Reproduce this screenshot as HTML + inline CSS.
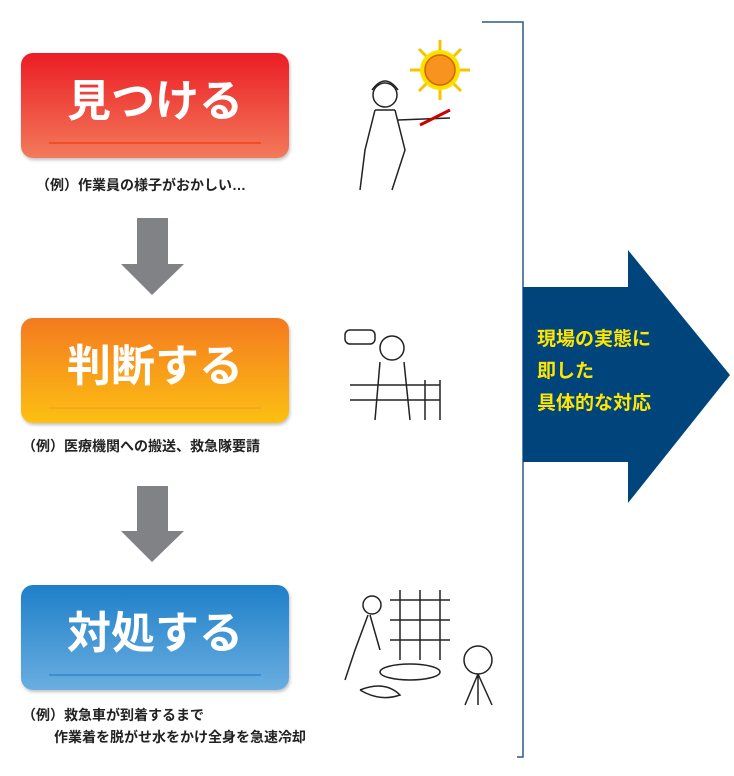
<!DOCTYPE html>
<html><head><meta charset="utf-8"><style>
body{margin:0;width:734px;height:776px;background:#fff;position:relative;overflow:hidden;font-family:"Liberation Sans","Noto Sans CJK JP",sans-serif}
.box{position:absolute;left:21px;width:268px;height:105px;border-radius:12px;color:#fff;font-weight:bold;font-size:44px;text-align:center;line-height:98px;box-shadow:1px 2px 3px rgba(0,0,0,.25)}
.box i{position:absolute;left:28px;right:28px;bottom:14px;height:2px}
.cap{position:absolute;font-size:14px;font-weight:bold;color:#222;white-space:nowrap}
</style></head><body>
<div class="box" style="top:53px;background:linear-gradient(#ec1c24,#f27a5a)">見つける<i style="background:#f04e23"></i></div>
<div class="cap" style="left:36px;top:175px">（例）作業員の様子がおかしい…</div>
<div class="box" style="top:318px;background:linear-gradient(#f47a20,#fcc012)">判断する<i style="background:#f5a623"></i></div>
<div class="cap" style="left:22px;top:436px">（例）医療機関への搬送、救急隊要請</div>
<div class="box" style="top:585px;background:linear-gradient(#1e7fc9,#6aaee0)">対処する<i style="background:#3a8fd0"></i></div>
<div class="cap" style="left:22px;top:705px">（例）救急車が到着するまで</div>
<div class="cap" style="left:54px;top:727px">作業着を脱がせ水をかけ全身を急速冷却</div>
<svg width="734" height="776" style="position:absolute;left:0;top:0">
<polygon points="137,218 168,218 168,264 184,264 152,295 121,264 137,264" fill="#808285"/>
<polygon points="137,486 168,486 168,531 184,531 152,562 121,531 137,531" fill="#808285"/>
<polyline points="482,22 523,22 523,757 517,757" fill="none" stroke="#2a5b8c" stroke-width="1.5"/>
<polygon points="523,287 628,287 628,250 730,375 628,503 628,462 523,462" fill="#00447c"/>
<text x="537" y="345" font-size="19" font-weight="bold" fill="#ffe600">現場の実態に</text>
<text x="537" y="377" font-size="19" font-weight="bold" fill="#ffe600">即した</text>
<text x="537" y="409" font-size="19" font-weight="bold" fill="#ffe600">具体的な対応</text>
<g stroke="#f5c400" stroke-width="3">
<path d="M440 40 L440 100 M410 70 L470 70 M419 49 L461 91 M461 49 L419 91"/>
</g>
<circle cx="440" cy="70" r="20" fill="#ffe000"/>
<g stroke="#222" fill="none" stroke-width="1.5">
<circle cx="440" cy="70" r="15" fill="#f7931e" stroke="#c60"/>
<circle cx="385" cy="95" r="12"/><path d="M372 90 Q385 72 398 90"/>
<path d="M375 110 L365 150 L360 190 M395 110 L405 150 L392 190 M375 110 L395 110 M398 120 L450 118"/>
<path d="M420 125 L450 110" stroke="#c00" stroke-width="3"/>
<rect x="345" y="330" width="30" height="14" rx="5"/>
<circle cx="392" cy="348" r="12"/><path d="M380 362 L375 420 M404 362 L410 420 M350 385 L440 385 M350 400 L440 400 M425 380 L425 420 M440 380 L440 420"/>
<path d="M390 600 L450 600 M390 620 L450 620 M390 640 L450 640 M400 590 L400 660 M420 590 L420 660 M440 590 L440 660"/>
<circle cx="372" cy="605" r="9"/><path d="M368 615 L355 650 L345 680 M370 615 L380 650"/>
<ellipse cx="410" cy="672" rx="30" ry="8"/><circle cx="478" cy="660" r="14"/><path d="M478 674 L465 705 M478 674 L492 705 M478 674 L478 705"/>
<path d="M360 690 Q385 680 400 695 Q380 702 360 690"/>
</g>
</svg>
</body></html>
